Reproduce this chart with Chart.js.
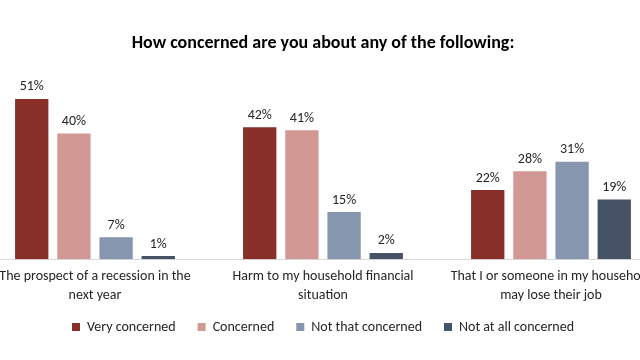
<!DOCTYPE html>
<html>
<head>
<meta charset="utf-8">
<script src="https://cdn.jsdelivr.net/npm/chart.js@4/dist/chart.umd.min.js"></script>
<style>
  html, body { margin: 0; padding: 0; background: #fff; overflow: hidden; }
  #wrap { position: absolute; left: -19px; top: 0; width: 684px; height: 360px; }
</style>
</head>
<body>
<div id="wrap"><canvas id="concernChart"></canvas></div>
<script>
// categories + series
const categories = [
    ['The prospect of a recession in the', 'next year'],
    ['Harm to my household financial', 'situation'],
    ['That I or someone in my household', 'may lose their job']
];
const veryConcerned = [51, 42, 22];
const concerned = [40, 41, 28];
const notThatConcerned = [7, 15, 31];
const notAtAllConcerned = [1, 2, 19];

const FONT = 'Carlito, Calibri, Lato, sans-serif';

// draws the "51%" style labels over each bar
const barLabels = {
    id: 'barLabels',
    afterDatasetsDraw(chart) {
        const ctx = chart.ctx;
        ctx.save();
        ctx.font = '14px ' + FONT;
        ctx.fillStyle = '#262626';
        ctx.textAlign = 'center';
        ctx.textBaseline = 'bottom';
        chart.data.datasets.forEach((ds, i) => {
            chart.getDatasetMeta(i).data.forEach((bar, j) => {
                ctx.fillText(ds.data[j] + '%', bar.x, bar.y - 5);
            });
        });
        ctx.restore();
    }
};

// legend padding is also the gap between items, so pull the legend up a bit
const liftLegend = {
    id: 'liftLegend',
    afterLayout(chart) {
        if (chart.legend) {
            chart.legend.top -= 15;
            chart.legend.bottom -= 15;
        }
    }
};

new Chart(document.getElementById('concernChart'), {
    type: 'bar',
    data: {
        labels: categories,
        datasets: [
            { label: 'Very concerned', data: veryConcerned, backgroundColor: '#872F28' },
            { label: 'Concerned', data: concerned, backgroundColor: '#D29893' },
            { label: 'Not that concerned', data: notThatConcerned, backgroundColor: '#8696AE' },
            { label: 'Not at all concerned', data: notAtAllConcerned, backgroundColor: '#465266' }
        ]
    },
    options: {
        responsive: true,
        maintainAspectRatio: false,
        animation: false,
        datasets: {
            bar: { categoryPercentage: 0.74, barPercentage: 0.79 }
        },
        layout: { padding: { top: 0, bottom: 1, left: 0, right: 0 } },
        scales: {
            x: {
                grid: { display: false, drawTicks: false },
                border: { display: true, color: '#d9d9d9', width: 1 },
                ticks: {
                    color: '#262626',
                    font: { family: FONT, size: 14, lineHeight: 1.35 },
                    padding: 8,
                    maxRotation: 0,
                    autoSkip: false
                }
            },
            y: {
                display: false,
                min: 0,
                max: 60
            }
        },
        plugins: {
            title: {
                display: true,
                text: 'How concerned are you about any of the following:',
                color: '#000',
                font: { family: FONT, size: 18, weight: 'bold' },
                padding: { top: 33, bottom: 16 }
            },
            legend: {
                position: 'bottom',
                labels: {
                    color: '#262626',
                    font: { family: FONT, size: 14 },
                    boxWidth: 8,
                    boxHeight: 8,
                    padding: 22
                }
            },
            tooltip: { enabled: false }
        }
    },
    plugins: [barLabels, liftLegend]
});
</script>
</body>
</html>
